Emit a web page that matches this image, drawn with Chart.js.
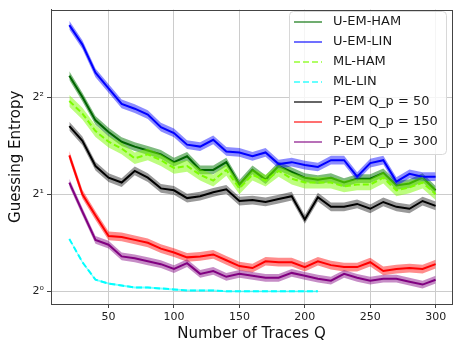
<!DOCTYPE html>
<html>
<head>
<meta charset="utf-8">
<script src="https://cdn.jsdelivr.net/npm/chart.js@4.4.0/dist/chart.umd.min.js"></script>
<style>
html, body { margin: 0; padding: 0; background: #fff; }
</style>
</head>
<body>
<canvas id="mycanvas" width="453" height="344"></canvas>
<script>
// number of traces Q
var traces = [20, 30, 40, 50, 60, 70, 80, 90, 100, 110, 120, 130, 140, 150, 160, 170, 180, 190, 200, 210, 220, 230, 240, 250, 260, 270, 280, 290, 300];
var tracesMlLin = [20, 30, 40, 50, 60, 70, 80, 90, 100, 110, 120, 130, 140, 150, 160, 170, 180, 190, 200, 210];

// guessing entropy, given as log2 (the axis is 2^0, 2^1, 2^2)
var uEmHam = [2.22, 2.00, 1.76, 1.64, 1.54, 1.49, 1.45, 1.41, 1.33, 1.39, 1.25, 1.25, 1.33, 1.10, 1.25, 1.15, 1.29, 1.23, 1.17, 1.15, 1.17, 1.12, 1.16, 1.16, 1.22, 1.09, 1.11, 1.17, 1.04];
var uEmLin = [2.74, 2.54, 2.25, 2.09, 1.93, 1.88, 1.82, 1.69, 1.63, 1.51, 1.49, 1.56, 1.44, 1.43, 1.39, 1.43, 1.31, 1.33, 1.30, 1.28, 1.35, 1.35, 1.18, 1.32, 1.35, 1.13, 1.21, 1.18, 1.18];
var mlHam = [1.96, 1.83, 1.65, 1.54, 1.47, 1.37, 1.41, 1.35, 1.27, 1.29, 1.20, 1.14, 1.25, 1.06, 1.20, 1.14, 1.24, 1.16, 1.12, 1.12, 1.12, 1.08, 1.10, 1.10, 1.17, 1.04, 1.07, 1.12, 1.00];
var mlLin = [0.54, 0.30, 0.12, 0.08, 0.06, 0.04, 0.04, 0.03, 0.02, 0.01, 0.01, 0.01, 0.00, 0.00, 0.00, 0.00, 0.00, 0.00, 0.00, 0.00];
var pEm50 = [1.70, 1.55, 1.29, 1.17, 1.12, 1.24, 1.17, 1.06, 1.04, 0.96, 0.98, 1.02, 1.05, 0.93, 0.94, 0.92, 0.95, 0.98, 0.74, 0.97, 0.87, 0.87, 0.90, 0.85, 0.92, 0.87, 0.85, 0.93, 0.88];
var pEm150 = [1.40, 1.00, 0.78, 0.57, 0.56, 0.53, 0.50, 0.44, 0.40, 0.35, 0.36, 0.38, 0.32, 0.26, 0.24, 0.31, 0.30, 0.30, 0.25, 0.31, 0.27, 0.25, 0.25, 0.30, 0.21, 0.23, 0.24, 0.23, 0.28];
var pEm300 = [1.12, 0.82, 0.53, 0.48, 0.36, 0.34, 0.31, 0.28, 0.23, 0.29, 0.18, 0.21, 0.15, 0.18, 0.16, 0.14, 0.14, 0.19, 0.16, 0.13, 0.11, 0.18, 0.14, 0.11, 0.13, 0.13, 0.10, 0.07, 0.12];

// half width of the shaded band, log2 units
var spread = [0.045, 0.045, 0.06, 0.01, 0.045, 0.045, 0.04];

var labels = ["U-EM-HAM", "U-EM-LIN", "ML-HAM", "ML-LIN", "P-EM Q_p = 50", "P-EM Q_p = 150", "P-EM Q_p = 300"];
var xTicks = [50, 100, 150, 200, 250, 300];
var yTicks = [0, 1, 2];
var yTickLabels = ["2\u2070", "2\u00b9", "2\u00b2"];

var series = [
	{ xs: traces, ys: uEmHam, color: "rgb(0,100,0)", legend: "rgba(0,110,0,0.75)", band: "rgba(0,120,0,0.5)", dash: [] },
	{ xs: traces, ys: uEmLin, color: "rgb(0,0,255)", legend: "rgba(0,0,255,0.75)", band: "rgba(0,0,255,0.45)", dash: [] },
	{ xs: traces, ys: mlHam, color: "rgb(124,252,0)", legend: "rgba(124,252,0,0.8)", band: "rgba(124,252,0,0.5)", dash: [6, 3] },
	{ xs: tracesMlLin, ys: mlLin, color: "rgb(0,255,255)", legend: "rgba(0,255,255,0.8)", band: "rgba(0,255,255,0.5)", dash: [6, 3] },
	{ xs: traces, ys: pEm50, color: "rgb(0,0,0)", legend: "rgba(0,0,0,0.8)", band: "rgba(0,0,0,0.4)", dash: [] },
	{ xs: traces, ys: pEm150, color: "rgb(255,0,0)", legend: "rgba(255,0,0,0.75)", band: "rgba(255,0,0,0.45)", dash: [] },
	{ xs: traces, ys: pEm300, color: "rgb(128,0,128)", legend: "rgba(128,0,128,0.75)", band: "rgba(128,0,128,0.45)", dash: [] }
];

function pts(xs, ys, d) {
	return ys.map(function(v, i) { return { x: xs[i], y: v + d }; });
}

var datasets = [];
for (var i = 0; i < series.length; i++) {
	var s = series[i];
	var base = 100 - 3 * i;
	datasets.push({ data: pts(s.xs, s.ys, -spread[i]), borderWidth: 0, pointRadius: 0, fill: false, order: base });
	datasets.push({ data: pts(s.xs, s.ys, spread[i]), borderWidth: 0, pointRadius: 0, fill: "-1", backgroundColor: s.band, order: base - 1 });
	datasets.push({ label: labels[i], data: pts(s.xs, s.ys, 0), borderColor: s.color, borderWidth: 2, borderDash: s.dash, pointRadius: 0, fill: false, tension: 0, order: base - 2 });
}

var framePlugin = {
	id: "frame",
	afterDraw: function(chart) {
		var ctx = chart.ctx, a = chart.chartArea;
		ctx.save();
		ctx.strokeStyle = "#444";
		ctx.lineWidth = 1;
		ctx.strokeRect(Math.round(a.left) + 0.5, Math.round(a.top) + 0.5, Math.round(a.right - a.left), Math.round(a.bottom - a.top));

		// legend box, top right inside the plot
		var bx = 289.5, by = 11.5, bw = 157, bh = 143, r = 4;
		ctx.beginPath();
		ctx.moveTo(bx + r, by);
		ctx.lineTo(bx + bw - r, by);
		ctx.arcTo(bx + bw, by, bx + bw, by + r, r);
		ctx.lineTo(bx + bw, by + bh - r);
		ctx.arcTo(bx + bw, by + bh, bx + bw - r, by + bh, r);
		ctx.lineTo(bx + r, by + bh);
		ctx.arcTo(bx, by + bh, bx, by + bh - r, r);
		ctx.lineTo(bx, by + r);
		ctx.arcTo(bx, by, bx + r, by, r);
		ctx.closePath();
		ctx.fillStyle = "rgba(255,255,255,0.8)";
		ctx.fill();
		ctx.strokeStyle = "#d8d8d8";
		ctx.stroke();

		ctx.font = "13px 'DejaVu Sans'";
		ctx.textBaseline = "middle";
		for (var k = 0; k < series.length; k++) {
			var y = 22 + 20 * k;
			ctx.strokeStyle = series[k].legend;
			ctx.lineWidth = 1.5;
			ctx.setLineDash(series[k].dash);
			ctx.beginPath();
			ctx.moveTo(294, y);
			ctx.lineTo(322, y);
			ctx.stroke();
			ctx.setLineDash([]);
			ctx.fillStyle = "#1a1a1a";
			ctx.fillText(labels[k], 333, y);
		}
		ctx.restore();
	}
};

var ctx = document.getElementById("mycanvas");

var chart = new Chart(ctx, {
	type: "line",
	data: { datasets: datasets },
	options: {
		responsive: false,
		animation: false,
		layout: { padding: { top: 3, right: 1, left: 0, bottom: 0 } },
		plugins: { legend: { display: false }, tooltip: { enabled: false } },
		scales: {
			x: {
				type: "linear",
				min: 6,
				max: 312.5,
				afterBuildTicks: function(scale) { scale.ticks = xTicks.map(function(v) { return { value: v }; }); },
				afterFit: function(scale) { scale.height = 40; },
				ticks: { color: "#222", font: { family: "DejaVu Sans", size: 11 }, padding: 3, maxRotation: 0 },
				grid: { color: "#cccccc", lineWidth: 1, tickLength: 4, tickColor: "#444" },
				border: { color: "#444" },
				title: { display: true, text: "Number of Traces Q", color: "#111", font: { family: "DejaVu Sans", size: 15 }, padding: { top: 0, bottom: 1 } }
			},
			y: {
				type: "linear",
				min: -0.13,
				max: 2.9,
				afterBuildTicks: function(scale) { scale.ticks = yTicks.map(function(v) { return { value: v }; }); },
				afterFit: function(scale) { scale.width = 51; },
				ticks: {
					color: "#222",
					font: { family: "DejaVu Sans", size: 11 },
					padding: 3,
					callback: function(v) { return yTickLabels[yTicks.indexOf(v)]; }
				},
				grid: { color: "#cccccc", lineWidth: 1, tickLength: 4, tickColor: "#444" },
				border: { color: "#444" },
				title: { display: true, text: "Guessing Entropy", color: "#111", font: { family: "DejaVu Sans", size: 15 }, padding: { top: 7, bottom: 0 } }
			}
		}
	},
	plugins: [framePlugin]
});
</script>
</body>
</html>
